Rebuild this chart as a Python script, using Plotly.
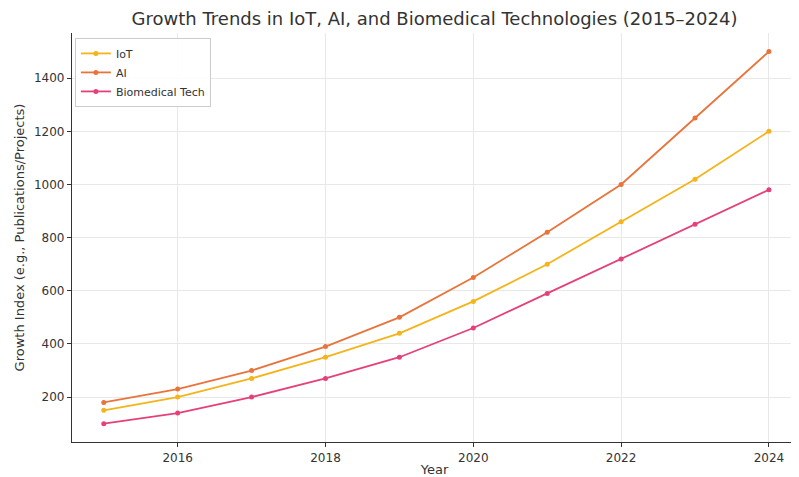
import plotly.graph_objects as go

years = [2015, 2016, 2017, 2018, 2019, 2020, 2021, 2022, 2023, 2024]
iot = [150, 200, 270, 350, 440, 560, 700, 860, 1020, 1200]
ai = [180, 230, 300, 390, 500, 650, 820, 1000, 1250, 1500]
biomed = [100, 140, 200, 270, 350, 460, 590, 720, 850, 980]

series_names = ["IoT", "AI", "Biomedical Tech"]
colors = ["#f4b41a", "#e8743b", "#e5407a"]

fig = go.Figure()
for name, vals, c in zip(series_names, [iot, ai, biomed], colors):
    fig.add_trace(go.Scatter(x=years, y=vals, name=name, mode="lines+markers",
                             line=dict(color=c, width=1.8),
                             marker=dict(color=c, size=5)))

W, H = 791, 469
fig.update_layout(
    width=W, height=H,
    margin=dict(l=64, r=2, t=25, b=35, autoexpand=False),
    paper_bgcolor="white", plot_bgcolor="white",
    font=dict(family="DejaVu Sans", color="#333"),
    title=dict(text="Growth Trends in IoT, AI, and Biomedical Technologies (2015–2024)",
               xref="paper", x=0.5, xanchor="center", y=1 - 11 / H, yanchor="middle",
               font=dict(size=18, color="#333")),
    legend=dict(x=0.004, y=0.988, xanchor="left", yanchor="top",
                bgcolor="rgba(255,255,255,0.9)", bordercolor="#ccc", borderwidth=1,
                font=dict(size=11), tracegroupgap=0, itemwidth=30),
    showlegend=True,
)
fig.update_xaxes(range=[2014.57, 2024.38], tickvals=[2016, 2018, 2020, 2022, 2024],
                 showgrid=True, gridcolor="#e8e8e8", showline=True, linecolor="#333",
                 linewidth=1.2, ticks="outside", ticklen=4, tickcolor="#333",
                 tickfont=dict(size=12), title=dict(text="Year", font=dict(size=13), standoff=3),
                 zeroline=False, automargin=False)
fig.update_yaxes(range=[31, 1570], tickvals=[200, 400, 600, 800, 1000, 1200, 1400],
                 showgrid=True, gridcolor="#e8e8e8", showline=True, linecolor="#333",
                 linewidth=1.2, ticks="outside", ticklen=4, tickcolor="#333",
                 tickfont=dict(size=12),
                 title=dict(text="Growth Index (e.g., Publications/Projects)", font=dict(size=13), standoff=6),
                 zeroline=False, automargin=False)

fig.write_html("out.html")
